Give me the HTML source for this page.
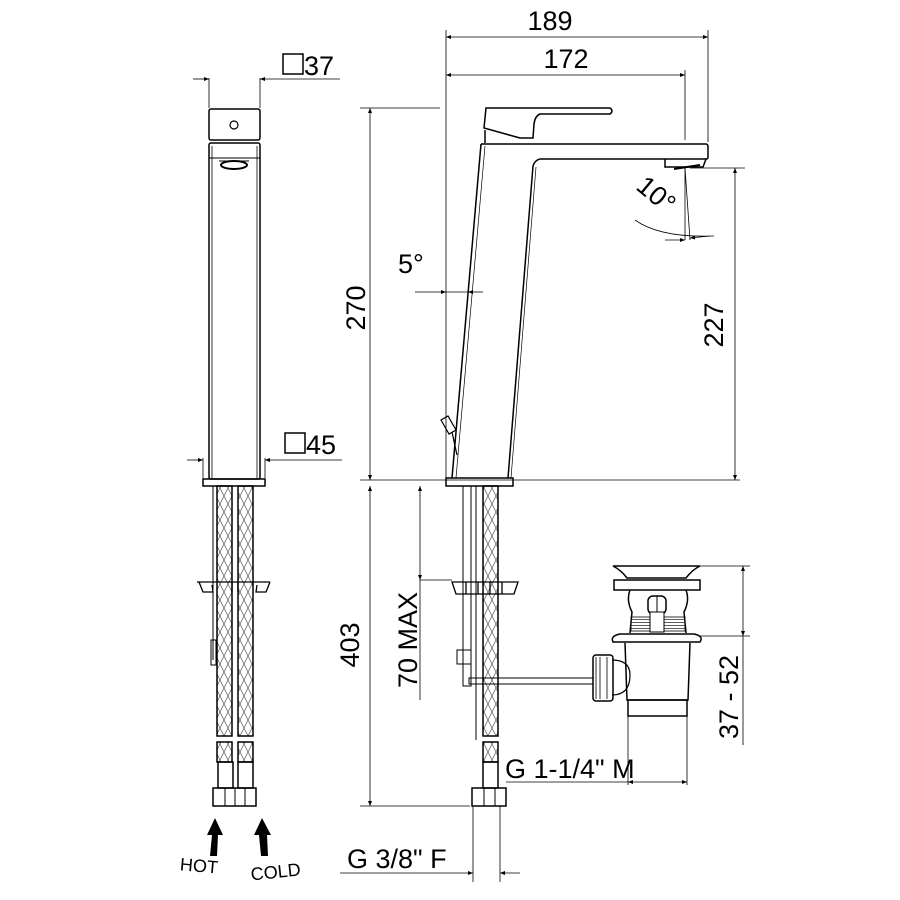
<!DOCTYPE html>
<html><head><meta charset="utf-8"><style>
html,body{margin:0;padding:0;background:#fff}
svg{display:block}
text{font-family:"Liberation Sans",Arial,sans-serif;fill:#000}
</style></head><body>
<svg width="900" height="900" viewBox="0 0 900 900" xmlns="http://www.w3.org/2000/svg">
<defs>
<pattern id="br" width="8" height="16" patternUnits="userSpaceOnUse">
<path d="M0 0 L8 16 M8 0 L0 16" stroke="#555" stroke-width="0.7" fill="none"/>
</pattern>
<pattern id="th" width="3" height="3" patternUnits="userSpaceOnUse">
<path d="M0 1.5 H3" stroke="#333" stroke-width="0.8"/>
</pattern>
<marker id="a" viewBox="0 0 10 10" refX="10" refY="5" markerWidth="10" markerHeight="5" orient="auto-start-reverse" markerUnits="userSpaceOnUse"><path d="M0 1 L10 5 L0 9z" fill="#000"/></marker>
</defs>
<g fill="none" stroke="#000" stroke-width="1.5">
<!-- LEFT VIEW -->
<rect x="209" y="109" width="51" height="31" rx="2"/>
<circle cx="234" cy="125" r="4" stroke-width="1.2"/>
<rect x="209" y="143" width="51" height="336" rx="2"/>
<line x1="212" y1="146" x2="212" y2="478" stroke-width="0.8"/>
<line x1="257" y1="146" x2="257" y2="478" stroke-width="0.8"/>
<line x1="209" y1="158" x2="260" y2="158" stroke-width="1"/>
<ellipse cx="234" cy="165" rx="13" ry="4" stroke-width="2"/>
<line x1="219" y1="161" x2="249" y2="161" stroke-width="1"/>
<rect x="203" y="479" width="62" height="7"/>
<rect x="217" y="486" width="15" height="250" fill="url(#br)"/>
<rect x="238" y="486" width="15" height="250" fill="url(#br)"/>
<rect x="217" y="742" width="15" height="20" fill="url(#br)"/>
<rect x="238" y="742" width="15" height="20" fill="url(#br)"/>
<line x1="213" y1="486" x2="213" y2="660" stroke-width="1"/>
<rect x="211" y="640" width="5" height="25" stroke-width="1"/>
<path d="M197 582 H270 M199 582 L203 592 H213 L212 585 M270 582 L266 592 H256 L257 585 M232 582 L232 592 M238 582 L238 592" stroke-width="1.3"/>
<rect x="218" y="762" width="15" height="26"/>
<rect x="238" y="762" width="15" height="26"/>
<rect x="213" y="788" width="43" height="18"/>
<line x1="225" y1="788" x2="225" y2="806" stroke-width="1"/>
<line x1="235" y1="788" x2="235" y2="806" stroke-width="1"/>
<line x1="245" y1="788" x2="245" y2="806" stroke-width="1"/>
</g>
<path d="M215 818 L207 835 L212 835 L210 856 L217 856 L218 835 L223 835z" fill="#000"/>
<path d="M262 818 L254 835 L259 835 L261 856 L268 856 L267 835 L271 835z" fill="#000"/>
<text x="180" y="872" font-size="18" transform="rotate(5 200 866)">HOT</text>
<text x="250" y="878" font-size="18" transform="rotate(-6 275 866)">COLD</text>

<g stroke="#000" stroke-width="0.8" fill="none">
<line x1="209" y1="78" x2="209" y2="108"/><line x1="260" y1="78" x2="260" y2="108"/>
<line x1="193" y1="79" x2="209" y2="79" marker-end="url(#a)"/>
<line x1="340" y1="79" x2="260" y2="79" marker-end="url(#a)"/>
<line x1="203" y1="458" x2="203" y2="478"/><line x1="265" y1="458" x2="265" y2="478"/>
<line x1="187" y1="460" x2="203" y2="460" marker-end="url(#a)"/>
<line x1="342" y1="460" x2="265" y2="460" marker-end="url(#a)"/>
</g>
<rect x="283" y="54" width="20" height="20" fill="none" stroke="#000" stroke-width="1.5"/>
<text x="304" y="75" font-size="27">37</text>
<rect x="285" y="433" width="20" height="20" fill="none" stroke="#000" stroke-width="1.5"/>
<text x="306" y="454" font-size="27">45</text>

<!-- SIDE VIEW -->
<g fill="none" stroke="#000" stroke-width="1.5">
<path d="M486 108 H610 Q614 111 610 114 H540 Q535 116 534 124 L533 138 L520 138 L484 128 Z"/>
<line x1="485" y1="130" x2="485" y2="143"/>
<path d="M481 144 H706 Q708 144 708 147 V157 Q708 159 706 159 H540 Q535 160 533 166 L508 478"/>
<path d="M481 144 L452 478"/>
<path d="M485 146 L456 478" stroke-width="0.7"/>
<path d="M536 167 L511 478" stroke-width="0.7"/>
<path d="M665 159 V167 H703 L706 159"/>
<path d="M674 169 L700 165" stroke-width="2"/>
<rect x="446" y="478" width="67" height="8"/>
<path d="M441 420 L448 416 L456 430 L449 434 Z" stroke-width="1.2"/>
<path d="M452 432 L457 455" stroke-width="1.2"/>
<rect x="463" y="486" width="8" height="200" stroke-width="1"/>
<line x1="476" y1="486" x2="476" y2="740" stroke-width="1"/>
<rect x="457" y="650" width="14" height="14" stroke-width="1"/>
<rect x="483" y="486" width="15" height="250" fill="url(#br)"/>
<rect x="483" y="742" width="15" height="20" fill="url(#br)"/>
<path d="M452 582 H518 L514 594 H456 Z M466 582 V594 M478 582 V594 M490 582 V594 M502 582 V594" stroke-width="1.3"/>
<rect x="483" y="762" width="15" height="26"/>
<rect x="472" y="788" width="34" height="18"/>
<line x1="484" y1="788" x2="484" y2="806" stroke-width="1"/>
<line x1="495" y1="788" x2="495" y2="806" stroke-width="1"/>
<rect x="469" y="678" width="124" height="6" stroke-width="1"/>
<!-- waste -->
<path d="M613 566 H700 Q692 570 686 578 H627 Q621 570 613 566 Z"/>
<rect x="614" y="580" width="86" height="10"/>
<path d="M630 590 Q626 600 632 612 L630 633 M686 590 Q690 600 684 612 L686 633"/>
<rect x="648" y="596" width="18" height="18" rx="5"/>
<line x1="657" y1="596" x2="657" y2="614" stroke-width="1"/>
<rect x="631" y="617" width="54" height="14" fill="url(#th)" stroke-width="0.8"/>
<rect x="650" y="612" width="14" height="20" fill="#fff" stroke-width="1"/>
<path d="M613 642 Q610 636 620 634 H694 Q704 636 700 642 Z"/>
<path d="M625 643 L627 700 H688 L690 643"/>
<rect x="628" y="700" width="59" height="16"/>
<path d="M612 660 Q630 660 630 675 Q630 695 612 695" stroke-width="1.2"/>
<rect x="593" y="655" width="20" height="46" rx="3"/>
<path d="M596 657 V699 M600 657 V699 M607 657 V699" stroke-width="0.8"/>
</g>

<g stroke="#000" stroke-width="0.8" fill="none">
<line x1="446" y1="30" x2="446" y2="478"/>
<line x1="708" y1="30" x2="708" y2="142"/>
<line x1="685" y1="70" x2="685" y2="140"/>
<line x1="446" y1="37" x2="708" y2="37" marker-start="url(#a)" marker-end="url(#a)"/>
<line x1="446" y1="75" x2="685" y2="75" marker-start="url(#a)" marker-end="url(#a)"/>
<line x1="360" y1="108" x2="440" y2="108"/>
<line x1="360" y1="480" x2="740" y2="480"/>
<line x1="370" y1="108" x2="370" y2="480" marker-start="url(#a)" marker-end="url(#a)"/>
<line x1="690" y1="168" x2="745" y2="168"/>
<line x1="735" y1="168" x2="735" y2="480" marker-start="url(#a)" marker-end="url(#a)"/>
<line x1="685" y1="168" x2="690" y2="240"/>
<line x1="685" y1="168" x2="685" y2="240"/>
<path d="M635 220 Q660 238 714 236"/>
<line x1="665" y1="240" x2="685" y2="240" marker-end="url(#a)"/>
<line x1="710" y1="236" x2="690" y2="238" marker-end="url(#a)"/>
<line x1="415" y1="292" x2="446" y2="292" marker-end="url(#a)"/>
<line x1="483" y1="292" x2="468" y2="292" marker-end="url(#a)"/>
<line x1="446" y1="292" x2="468" y2="292"/>
<line x1="360" y1="806" x2="470" y2="806"/>
<line x1="370" y1="486" x2="370" y2="806" marker-start="url(#a)" marker-end="url(#a)"/>
<line x1="420" y1="486" x2="420" y2="580" marker-start="url(#a)" marker-end="url(#a)"/>
<line x1="420" y1="580" x2="452" y2="580"/>
<line x1="420" y1="580" x2="420" y2="700"/>
<line x1="473" y1="806" x2="473" y2="882"/>
<line x1="500" y1="806" x2="500" y2="882"/>
<line x1="340" y1="873" x2="473" y2="873" marker-end="url(#a)"/>
<line x1="520" y1="873" x2="500" y2="873" marker-end="url(#a)"/>
<line x1="506" y1="782" x2="628" y2="782"/>
<line x1="628" y1="716" x2="628" y2="785"/>
<line x1="687" y1="716" x2="687" y2="785"/>
<line x1="628" y1="782" x2="687" y2="782" marker-start="url(#a)" marker-end="url(#a)"/>
<line x1="700" y1="566" x2="750" y2="566"/>
<line x1="700" y1="636" x2="750" y2="636"/>
<line x1="743" y1="566" x2="743" y2="636" marker-start="url(#a)" marker-end="url(#a)"/>
<line x1="743" y1="636" x2="743" y2="745"/>
</g>
<g font-size="27">
<text x="550" y="30" text-anchor="middle">189</text>
<text x="566" y="68" text-anchor="middle">172</text>
<text x="358" y="308" text-anchor="middle" transform="rotate(-90 358 308)" dominant-baseline="middle">270</text>
<text x="716" y="325" text-anchor="middle" transform="rotate(-90 716 325)" dominant-baseline="middle">227</text>
<text x="398" y="273">5°</text>
<text x="655" y="196" text-anchor="middle" transform="rotate(40 655 196)" dominant-baseline="middle">10°</text>
<text x="352" y="645" text-anchor="middle" transform="rotate(-90 352 645)" dominant-baseline="middle">403</text>
<text x="410" y="640" text-anchor="middle" transform="rotate(-90 410 640)" dominant-baseline="middle">70 MAX</text>
<text x="731" y="697" text-anchor="middle" transform="rotate(-90 731 697)" dominant-baseline="middle">37 - 52</text>
<text x="505" y="778">G 1-1/4" M</text>
<text x="347" y="868">G 3/8" F</text>
</g>
</svg>
</body></html>
